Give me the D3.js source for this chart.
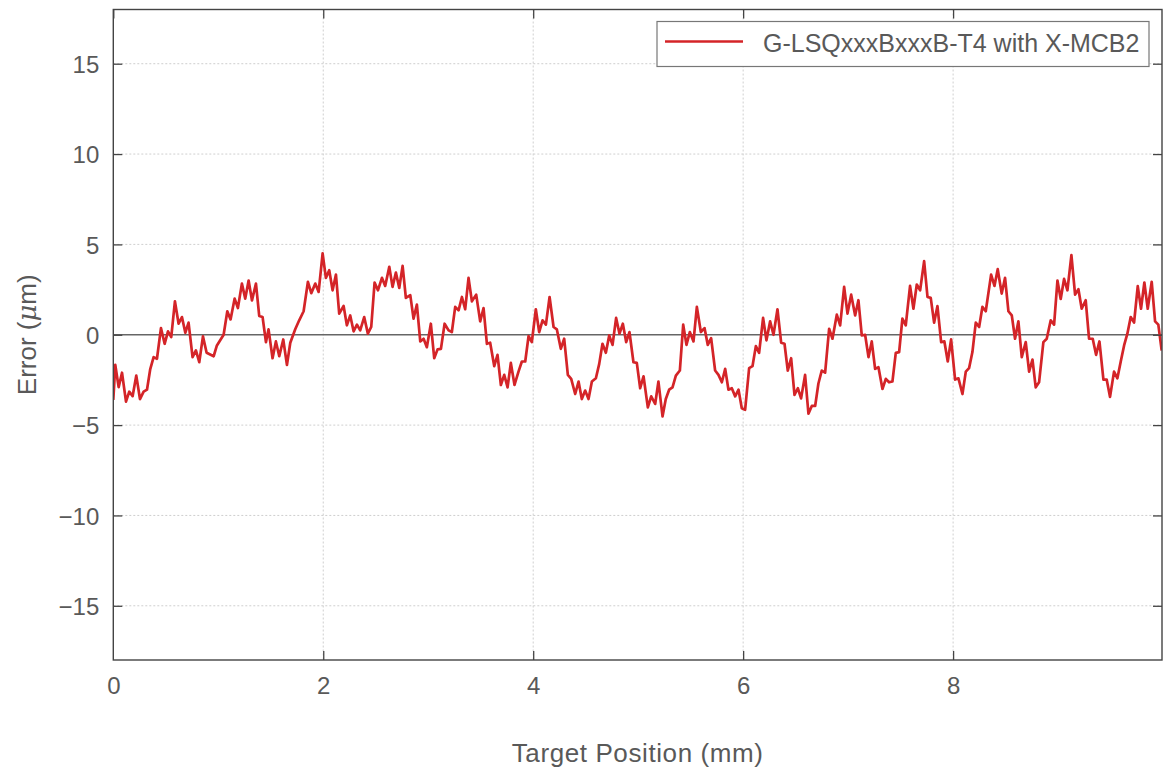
<!DOCTYPE html>
<html>
<head>
<meta charset="utf-8">
<script src="https://cdn.jsdelivr.net/npm/d3@7"></script>
<style>
  html, body { margin: 0; padding: 0; background: #fff; }
  svg { display: block; font-family: "Liberation Sans", Arial, sans-serif; }
</style>
</head>
<body>
<svg id="chart" width="1164" height="777"></svg>
<script>
// ---- data ----
const seriesName = "G-LSQxxxBxxxB-T4 with X-MCB2";
const xLabel = "Target Position (mm)";
const yLabelParts = ["Error (", "μ", "m)"];
const xTicks = [0, 2, 4, 6, 8];
const yTicks = [-15, -10, -5, 0, 5, 10, 15];
const xDomain = [0, 9.99];
const yDomain = [-18, 18];

const positions = [
  0.000, 0.019, 0.051, 0.083, 0.121, 0.152, 0.184, 0.219, 0.254, 0.289,
  0.321, 0.352, 0.384, 0.416, 0.454, 0.489, 0.521, 0.552, 0.587, 0.622,
  0.654, 0.686, 0.717, 0.755, 0.787, 0.819, 0.854, 0.889, 0.956, 0.987,
  1.051, 1.086, 1.117, 1.156, 1.187, 1.225, 1.257, 1.289, 1.321, 1.359,
  1.390, 1.422, 1.454, 1.479, 1.517, 1.549, 1.581, 1.619, 1.654, 1.686,
  1.733, 1.771, 1.813, 1.854, 1.886, 1.924, 1.956, 1.994, 2.025, 2.057,
  2.089, 2.121, 2.152, 2.194, 2.225, 2.257, 2.289, 2.321, 2.352, 2.390,
  2.425, 2.457, 2.489, 2.521, 2.559, 2.590, 2.629, 2.660, 2.692, 2.724,
  2.756, 2.787, 2.829, 2.860, 2.892, 2.924, 2.956, 2.987, 3.025, 3.057,
  3.089, 3.121, 3.156, 3.194, 3.225, 3.257, 3.289, 3.321, 3.352, 3.384,
  3.416, 3.457, 3.495, 3.527, 3.559, 3.590, 3.629, 3.660, 3.692, 3.724,
  3.756, 3.787, 3.822, 3.860, 3.892, 3.924, 3.956, 3.987, 4.025, 4.057,
  4.089, 4.121, 4.156, 4.194, 4.225, 4.263, 4.295, 4.330, 4.362, 4.400,
  4.432, 4.463, 4.495, 4.527, 4.559, 4.597, 4.629, 4.660, 4.692, 4.724,
  4.756, 4.790, 4.822, 4.854, 4.886, 4.917, 4.955, 4.987, 5.019, 5.051,
  5.092, 5.124, 5.162, 5.193, 5.232, 5.263, 5.295, 5.327, 5.359, 5.397,
  5.429, 5.460, 5.492, 5.527, 5.559, 5.597, 5.632, 5.663, 5.695, 5.733,
  5.765, 5.797, 5.829, 5.860, 5.892, 5.924, 5.956, 5.987, 6.019, 6.057,
  6.089, 6.121, 6.152, 6.190, 6.222, 6.257, 6.289, 6.327, 6.362, 6.394,
  6.425, 6.457, 6.489, 6.521, 6.552, 6.590, 6.622, 6.654, 6.686, 6.717,
  6.749, 6.781, 6.819, 6.851, 6.892, 6.924, 6.962, 6.994, 7.029, 7.067,
  7.098, 7.130, 7.162, 7.194, 7.225, 7.257, 7.289, 7.327, 7.359, 7.390,
  7.422, 7.454, 7.486, 7.517, 7.549, 7.590, 7.622, 7.654, 7.686, 7.724,
  7.756, 7.787, 7.819, 7.851, 7.886, 7.917, 7.949, 7.981, 8.019, 8.051,
  8.089, 8.121, 8.152, 8.184, 8.216, 8.248, 8.279, 8.311, 8.362, 8.394,
  8.425, 8.463, 8.495, 8.527, 8.559, 8.590, 8.622, 8.654, 8.692, 8.724,
  8.756, 8.787, 8.819, 8.860, 8.892, 8.930, 8.962, 8.994, 9.025, 9.057,
  9.089, 9.127, 9.162, 9.194, 9.225, 9.263, 9.295, 9.330, 9.362, 9.394,
  9.432, 9.463, 9.495, 9.533, 9.565, 9.597, 9.629, 9.660, 9.692, 9.724,
  9.759, 9.790, 9.822, 9.854, 9.892, 9.924, 9.955, 9.987
];

const errors = [
  -3.60, -1.67, -2.90, -2.10, -3.70, -3.15, -3.40, -2.26, -3.56, -3.15,
  -3.04, -1.90, -1.24, -1.33, 0.37, -0.50, 0.19, -0.13, 1.85, 0.61,
  0.98, 0.11, 0.67, -1.24, -0.87, -1.52, -0.09, -1.00, -1.19, -0.59,
  0.00, 1.30, 0.85, 2.00, 1.48, 2.83, 2.00, 3.00, 1.90, 2.83,
  1.04, 0.98, -0.41, 0.30, -1.30, -0.37, -1.19, -0.26, -1.67, -0.44,
  0.30, 0.80, 1.30, 2.93, 2.30, 2.83, 2.37, 4.50, 3.15, 3.57,
  2.46, 3.33, 1.17, 1.59, 0.52, 1.07, 0.19, 0.56, 0.24, 0.98,
  0.06, 0.43, 2.89, 2.46, 3.15, 2.70, 3.76, 2.65, 3.44, 2.59,
  3.81, 2.04, 2.19, 0.89, 1.67, -0.37, -0.22, -0.69, 0.61, -1.30,
  -0.81, -0.78, 0.61, 0.24, 0.15, 1.54, 1.35, 2.09, 1.41, 3.15,
  1.85, 2.22, 0.74, 1.48, -0.50, -0.44, -1.74, -1.11, -2.78, -2.22,
  -2.91, -1.56, -2.78, -2.04, -1.48, -1.48, -0.07, -0.41, 1.41, 0.15,
  0.80, 0.56, 2.09, 0.43, 0.30, -0.78, -0.22, -2.22, -2.44, -3.28,
  -2.59, -3.56, -3.09, -3.56, -2.59, -2.41, -1.61, -0.50, -1.00, -0.04,
  -0.56, 0.93, 0.06, 0.61, -0.41, 0.15, -1.52, -1.56, -2.96, -2.30,
  -4.02, -3.41, -3.83, -2.59, -4.52, -3.56, -3.04, -2.91, -2.26, -1.98,
  0.56, -0.56, 0.15, -0.37, 1.54, 0.15, 0.37, -0.56, -0.19, -1.98,
  -2.22, -2.63, -1.89, -3.04, -2.96, -3.41, -3.04, -4.07, -4.15, -1.85,
  -1.74, -0.63, -1.00, 0.93, -0.31, 0.74, 0.00, 1.41, -0.44, -0.50,
  -1.98, -1.30, -3.33, -2.96, -3.52, -2.22, -4.37, -3.94, -3.94, -2.70,
  -1.98, -2.10, 0.33, -0.22, 1.11, 0.52, 2.65, 1.17, 2.22, 1.07,
  1.91, -0.04, 0.00, -1.24, -0.37, -1.89, -1.80, -3.00, -2.44, -2.63,
  -2.59, -1.00, -0.96, 0.89, 0.52, 2.70, 1.44, 2.78, 2.46, 4.07,
  2.09, 2.04, 0.67, 1.59, -0.41, -0.37, -1.48, -0.26, -2.48, -2.41,
  -3.28, -2.04, -1.85, -0.96, 0.67, 0.43, 1.54, 1.30, 3.33, 2.70,
  3.63, 2.28, 3.15, 1.30, 1.07, -0.22, 0.74, -1.24, -0.41, -2.04,
  -1.37, -2.91, -2.63, -0.41, -0.22, 0.80, 0.56, 3.00, 1.98, 3.09,
  2.46, 4.41, 2.22, 2.52, 1.44, 1.91, -0.22, -0.22, -1.11, -0.37,
  -2.48, -2.48, -3.44, -2.04, -2.41, -1.48, -0.59, 0.06, 0.98, 0.67,
  2.69, 1.44, 2.89, 1.44, 2.93, 0.74, 0.56, -0.87
];

// ---- layout ----
const plotLeft = 113.3, plotRight = 1162, plotTop = 9.5, plotBottom = 660;
const textColor = "#595959";
const axisColor = "#444";
const lineColor = "#d42428";

const svg = d3.select("#chart");

const x = d3.scaleLinear().domain(xDomain).range([plotLeft, plotRight]);
const y = d3.scaleLinear().domain(yDomain).range([plotBottom, plotTop]);

const fmt = d3.format("");

// grid
const grid = svg.append("g");
grid.selectAll("line.vg").data(xTicks.filter(d => d !== 0)).join("line")
  .attr("x1", d => x(d)).attr("x2", d => x(d))
  .attr("y1", plotTop).attr("y2", plotBottom)
  .attr("stroke", "#cfcfcf").attr("stroke-width", 1)
  .attr("stroke-dasharray", "2,2");
grid.selectAll("line.hg").data(yTicks.filter(d => d !== 0)).join("line")
  .attr("x1", plotLeft).attr("x2", plotRight)
  .attr("y1", d => y(d)).attr("y2", d => y(d))
  .attr("stroke", "#cfcfcf").attr("stroke-width", 1)
  .attr("stroke-dasharray", "2,2");

// zero line
svg.append("line")
  .attr("x1", plotLeft).attr("x2", plotRight)
  .attr("y1", y(0)).attr("y2", y(0))
  .attr("stroke", "#666").attr("stroke-width", 1.5);

// data line
const data = positions.map((p, i) => [p, errors[i]]);
svg.append("defs").append("clipPath").attr("id", "clip")
  .append("rect").attr("x", plotLeft).attr("y", plotTop)
  .attr("width", plotRight - plotLeft).attr("height", plotBottom - plotTop);
svg.append("path")
  .datum(data)
  .attr("clip-path", "url(#clip)")
  .attr("fill", "none")
  .attr("stroke", lineColor)
  .attr("stroke-width", 2.7)
  .attr("stroke-linejoin", "round")
  .attr("d", d3.line().x(d => x(d[0])).y(d => y(d[1])));

// axes with inward ticks on all four sides
const tickLen = 9;
const axB = svg.append("g").attr("transform", `translate(0,${plotBottom})`)
  .call(d3.axisBottom(x).tickValues(xTicks).tickSizeInner(-tickLen).tickSizeOuter(0).tickPadding(17).tickFormat(fmt));
const axT = svg.append("g").attr("transform", `translate(0,${plotTop})`)
  .call(d3.axisTop(x).tickValues(xTicks).tickSizeInner(-tickLen).tickSizeOuter(0).tickFormat(""));
const axL = svg.append("g").attr("transform", `translate(${plotLeft},0)`)
  .call(d3.axisLeft(y).tickValues(yTicks).tickSizeInner(-tickLen).tickSizeOuter(0).tickPadding(14).tickFormat(d3.format("")));
const axR = svg.append("g").attr("transform", `translate(${plotRight},0)`)
  .call(d3.axisRight(y).tickValues(yTicks).tickSizeInner(-tickLen).tickSizeOuter(0).tickFormat(""));

[axB, axT, axL, axR].forEach(g => {
  g.select(".domain").remove();
  g.selectAll(".tick line").attr("stroke", axisColor).attr("stroke-width", 1.3);
  g.selectAll(".tick text")
    .attr("fill", textColor)
    .style("font-family", "'Liberation Sans', Arial, sans-serif")
    .style("font-size", "24px");
});
axB.selectAll(".tick").filter(d => d === 0).select("line").remove();
axL.selectAll(".tick text").attr("dy", "0.36em");

// frame
svg.append("rect")
  .attr("x", plotLeft).attr("y", plotTop)
  .attr("width", plotRight - plotLeft).attr("height", plotBottom - plotTop)
  .attr("fill", "none").attr("stroke", axisColor).attr("stroke-width", 1.4);

// axis titles
svg.append("text")
  .attr("x", (plotLeft + plotRight) / 2).attr("y", 762)
  .attr("text-anchor", "middle")
  .attr("fill", textColor)
  .style("font-size", "26px")
  .style("letter-spacing", "0.6px")
  .text(xLabel);

const yt = svg.append("text")
  .attr("transform", `translate(36,${(plotTop + plotBottom) / 2}) rotate(-90)`)
  .attr("text-anchor", "middle")
  .attr("fill", textColor)
  .style("font-size", "26px");
yt.append("tspan").text(yLabelParts[0]);
yt.append("tspan").style("font-style", "italic").style("font-family", "'DejaVu Serif', serif").text(yLabelParts[1]);
yt.append("tspan").text(yLabelParts[2]);

// legend
const lg = svg.append("g");
lg.append("rect")
  .attr("x", 657).attr("y", 21.5)
  .attr("width", 492).attr("height", 45)
  .attr("fill", "#fff").attr("stroke", "#777").attr("stroke-width", 1.2);
lg.append("line")
  .attr("x1", 665).attr("x2", 743).attr("y1", 41.5).attr("y2", 41.5)
  .attr("stroke", lineColor).attr("stroke-width", 2.7);
lg.append("text")
  .attr("x", 763).attr("y", 52)
  .attr("fill", textColor)
  .style("font-size", "25px")
  .text(seriesName);
</script>
</body>
</html>
